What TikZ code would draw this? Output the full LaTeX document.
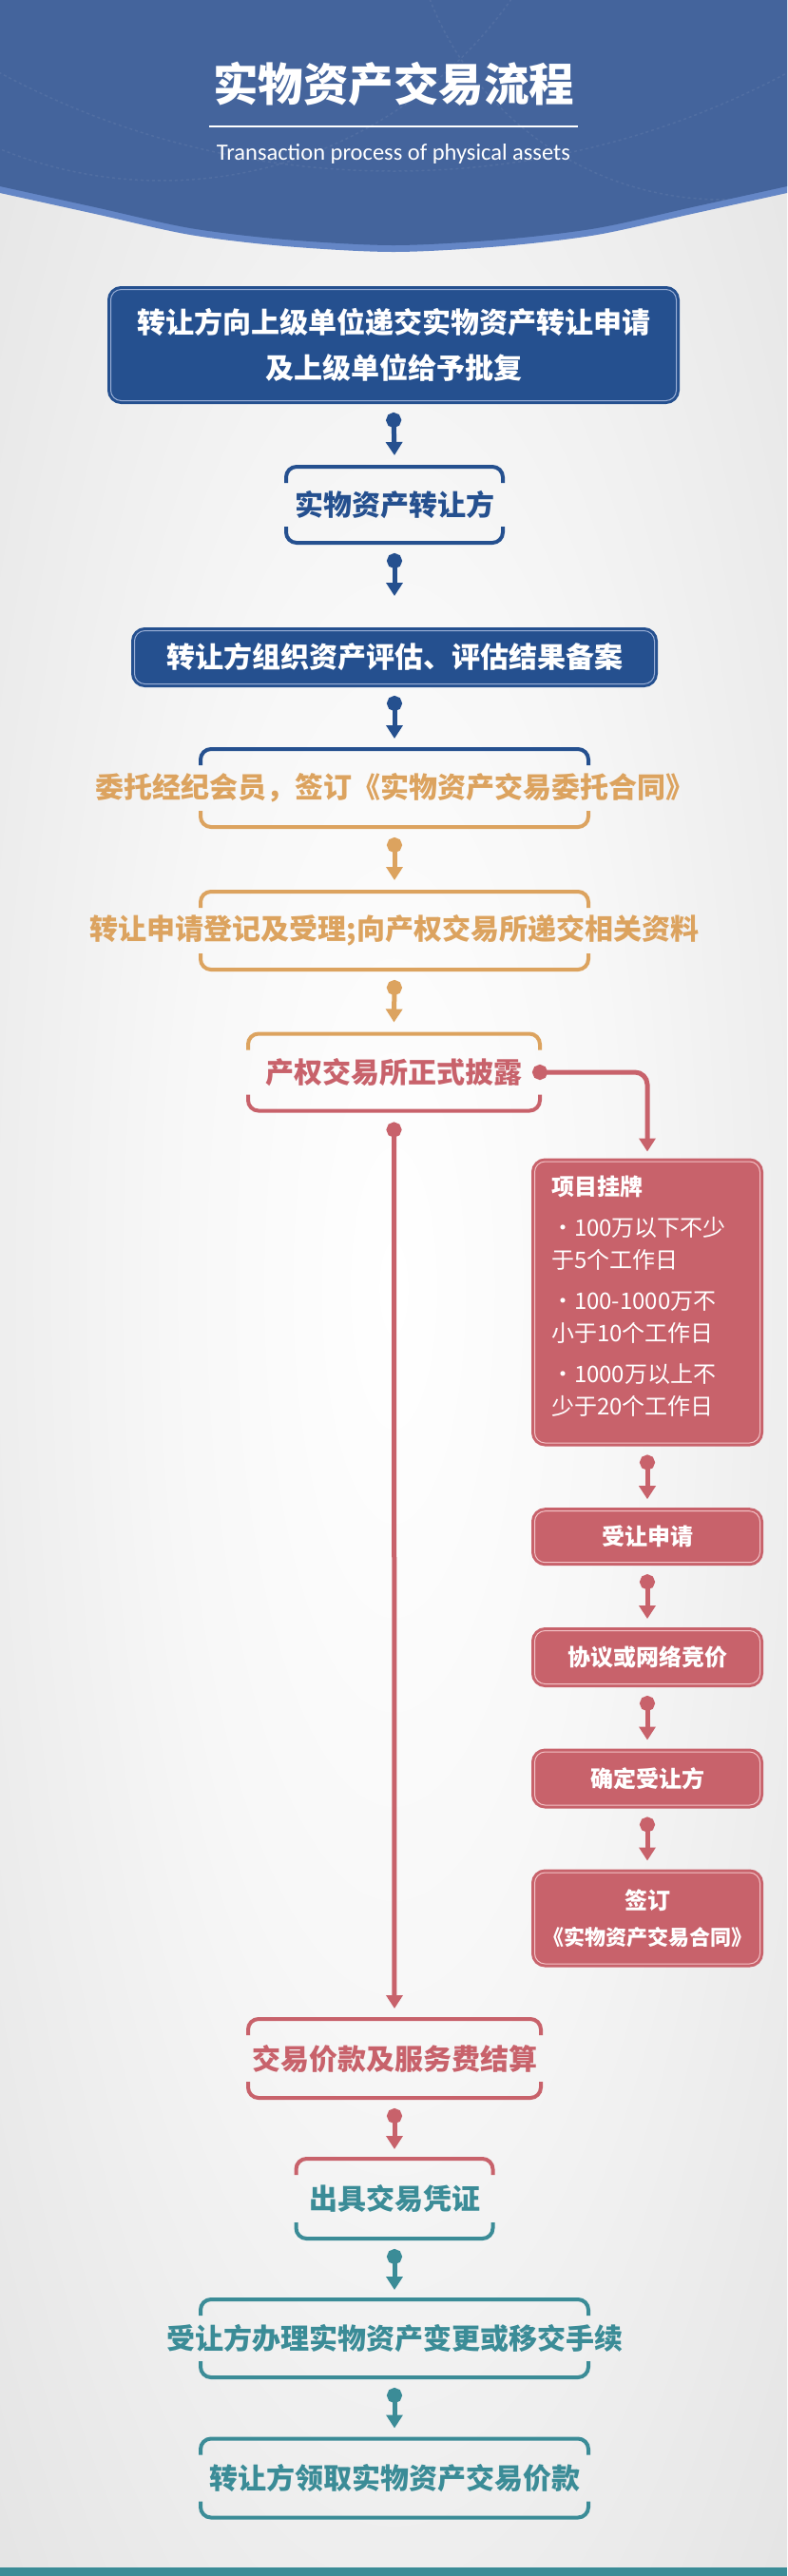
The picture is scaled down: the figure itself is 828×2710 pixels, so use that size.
\documentclass[tikz,border=0pt]{standalone}
\usepackage{fontspec}
\setmainfont{Noto Sans CJK SC}
\newfontfamily\subfont{Carlito}
\usetikzlibrary{arrows.meta,positioning}

\definecolor{hdrblue}{HTML}{44649C}
\definecolor{rimblue}{HTML}{6486C6}
\definecolor{cblue}{HTML}{25508F}
\definecolor{blueline}{HTML}{9AAFD6}
\definecolor{corange}{HTML}{DCA35F}
\definecolor{cred}{HTML}{C8626B}
\definecolor{redline}{HTML}{F3C3C7}
\definecolor{cteal}{HTML}{3B8C97}

\pgfdeclareradialshading{paper}{\pgfpoint{0bp}{0bp}}{color(0bp)=(white); color(14bp)=(white!97!black); color(40bp)=(white!88!black); color(75bp)=(white!86!black)}

\tikzset{
  conn/.style={line width=5pt, draw=#1, {Circle[length=16pt]}-{Triangle[width=17pt,length=14pt]}},
  bracket/.style={line width=4pt, rounded corners=11pt},
  frame/.style 2 args={minimum width=#1, minimum height=#2, inner sep=0pt, outer sep=0pt,
    font=\bfseries\fontsize{30}{36}\selectfont},
  fbox/.style 2 args={fill=#1, draw=#1, double=#2, double distance=1pt, line width=3pt,
    rounded corners=11pt, text=white, align=center, inner sep=0pt},
}

\newcommand\bracketpair[3]{%
  \draw[bracket,#2] ([yshift=-17pt]#1.north west) -- (#1.north west) -- (#1.north east) -- ([yshift=-17pt]#1.north east);
  \draw[bracket,#3] ([yshift=17pt]#1.south west) -- (#1.south west) -- (#1.south east) -- ([yshift=17pt]#1.south east);}
\newcommand\overhang[1]{\makebox[0pt]{#1}}

\begin{document}
\begin{tikzpicture}[x=1pt,y=-1pt]
  \useasboundingbox (0,0) rectangle (828,2710);
  \shade[shading=paper] (0,0) rectangle (828,2710);

  \fill[rimblue] (0,0) -- plot[smooth] coordinates {(0,203) (100,225) (200,247) (300,259) (414,265) (528,259) (628,247) (728,225) (828,203)} -- (828,0) -- cycle;
  \fill[hdrblue] (0,0) -- plot[smooth] coordinates {(0,196) (100,218) (200,240) (300,252) (414,258) (528,252) (628,240) (728,218) (828,196)} -- (828,0) -- cycle;
  \begin{scope}
    \clip (0,0) -- plot[smooth] coordinates {(0,196) (100,218) (200,240) (300,252) (414,258) (528,252) (628,240) (728,218) (828,196)} -- (828,0) -- cycle;
    \draw[white, opacity=0.07, dashed, line width=1.5pt] (170,-260) circle (450) (760,-120) circle (330) (414,-700) circle (880);
  \end{scope}

  \node[text=white, font=\bfseries\fontsize{47.5}{50}\selectfont] (title) at (414,88) {实物资产交易流程};
  \draw[white, line width=2pt] (title.west |- 0,133) -- (title.east |- 0,133);
  \node[text=white, font=\subfont\fontsize{24.5}{26}\selectfont] (subtitle) at (414,162) {Transaction process of physical assets};

  \node[fbox={cblue}{blueline}, minimum width=595, minimum height=117, font=\bfseries\fontsize{30}{48}\selectfont] (b1) at (414,363) {转让方向上级单位递交实物资产转让申请\\及上级单位给予批复};
  \node[frame={228}{80}, text=cblue] (b2) at (415,531) {\overhang{实物资产转让方}};
  \node[fbox={cblue}{blueline}, minimum width=547, minimum height=56, font=\bfseries\fontsize{30}{36}\selectfont] (b3) at (415,691.5) {转让方组织资产评估、评估结果备案};
  \node[frame={408}{82}, text=corange] (b4) at (415,829) {\overhang{委托经纪会员，签订《实物资产交易委托合同》}};
  \node[frame={408}{82}, text=corange] (b5) at (415,979) {\overhang{转让申请登记及受理;向产权交易所递交相关资料}};
  \node[frame={307}{81}, text=cred] (b6) at (414.5,1128) {\overhang{产权交易所正式披露}};

  \node[fbox={cred}{redline}, minimum width=237, minimum height=296, text width=202, align=left, font=\fontsize{24}{34}\selectfont] (r1) at (681,1370) {{\bfseries 项目挂牌}\\[9pt]・100万以下不少\\于5个工作日\\[9pt]・100-1000万不\\小于10个工作日\\[9pt]・1000万以上不\\少于20个工作日\rule[-15pt]{0pt}{15pt}};
  \node[fbox={cred}{redline}, minimum width=237, minimum height=54, font=\bfseries\fontsize{24}{30}\selectfont] (r2) at (681,1616.7) {受让申请};
  \node[fbox={cred}{redline}, minimum width=237, minimum height=56, font=\bfseries\fontsize{24}{30}\selectfont] (r3) at (681,1743.5) {协议或网络竞价};
  \node[fbox={cred}{redline}, minimum width=237, minimum height=56, font=\bfseries\fontsize{24}{30}\selectfont] (r4) at (681,1871) {确定受让方};
  \node[fbox={cred}{redline}, minimum width=237, minimum height=96, font=\bfseries\fontsize{24}{38}\selectfont] (r5) at (681,2018) {签订\\{\fontsize{22}{38}\selectfont 《实物资产交易合同》}};

  \node[frame={308}{83}, text=cred] (b7) at (415,2165.5) {\overhang{交易价款及服务费结算}};
  \node[frame={207}{84}, text=cteal] (b8) at (415,2313) {\overhang{出具交易凭证}};
  \node[frame={408}{82}, text=cteal] (b9) at (415,2460) {\overhang{受让方办理实物资产变更或移交手续}};
  \node[frame={408}{83}, text=cteal] (b10) at (415,2607) {\overhang{转让方领取实物资产交易价款}};

  \bracketpair{b2}{cblue}{cblue}
  \bracketpair{b4}{cblue}{corange}
  \bracketpair{b5}{corange}{corange}
  \bracketpair{b6}{corange}{cred}
  \bracketpair{b7}{cred}{cred}
  \bracketpair{b8}{cred}{cteal}
  \bracketpair{b9}{cteal}{cteal}
  \bracketpair{b10}{cteal}{cteal}

  \draw[conn=cblue] ([yshift=-11pt]b1.south) -- ([yshift=12pt]b2.north);
  \draw[conn=cblue] ([yshift=-11pt]b2.south) -- ([yshift=35pt]b3.north);
  \draw[conn=cblue] ([yshift=-11pt]b3.south) -- ([yshift=11pt]b4.north);
  \draw[conn=corange] ([yshift=-11pt]b4.south) -- ([yshift=12pt]b5.north);
  \draw[conn=corange] ([yshift=-11pt]b5.south) -- ([yshift=12pt]b6.north);
  \draw[conn=cred, rounded corners=13pt] ([xshift=-8pt]b6.east) -| ([yshift=9pt]r1.north);
  \draw[conn=cred] ([yshift=-12pt]b6.south) -- ([yshift=11pt]b7.north);
  \foreach \a/\b in {r1/r2, r2/r3, r3/r4, r4/r5}
    \draw[conn=cred] ([yshift=-11pt]\a.south) -- ([yshift=11pt]\b.north);
  \draw[conn=cred] ([yshift=-11pt]b7.south) -- ([yshift=10pt]b8.north);
  \draw[conn=cteal] ([yshift=-11pt]b8.south) -- ([yshift=10pt]b9.north);
  \draw[conn=cteal] ([yshift=-11pt]b9.south) -- ([yshift=11pt]b10.north);

  \fill[cteal] (0,2701) rectangle (828,2710);
\end{tikzpicture}
\end{document}
